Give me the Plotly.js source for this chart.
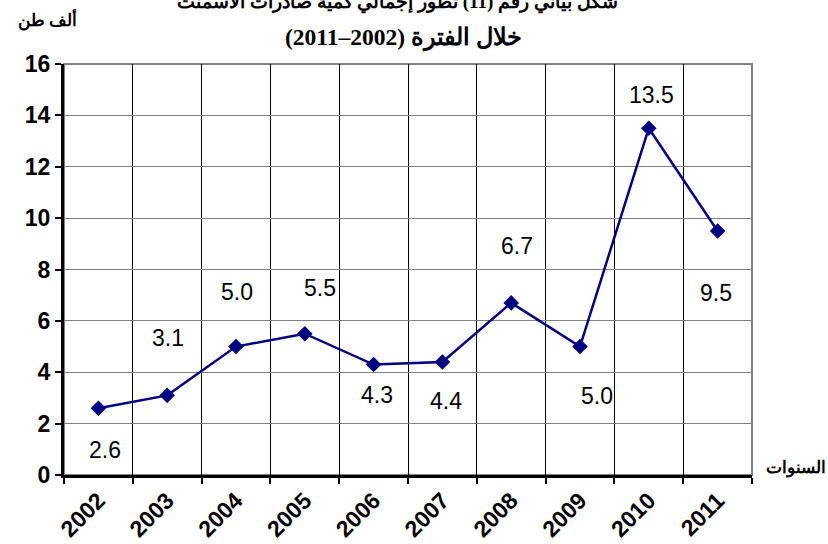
<!DOCTYPE html>
<html>
<head>
<meta charset="utf-8">
<script src="https://cdn.plot.ly/plotly-3.0.1.min.js"></script>
<style>
  body { margin: 0; background: #fff; }
  #chart { width: 828px; height: 544px; }
</style>
</head>
<body>
<div id="chart"></div>
<script>
// Data
var years = ['2002', '2003', '2004', '2005', '2006', '2007', '2008', '2009', '2010', '2011'];
var values = [2.6, 3.1, 5.0, 5.5, 4.3, 4.4, 6.7, 5.0, 13.5, 9.5];
var labels = ['2.6', '3.1', '5.0', '5.5', '4.3', '4.4', '6.7', '5.0', '13.5', '9.5'];

// label offsets (px) around each point
var shiftX = [7, 1, 1, 15, 3, 4, 6, 17, 3, -2];
var shiftY = [-42, 57, 55, 46, -30, -39, 57, -49, 33, -62];

var trace = {
    x: years,
    y: values,
    type: 'scatter',
    mode: 'lines+markers',
    line: {color: '#000080', width: 2.5},
    marker: {symbol: 'diamond', size: 12, color: '#000080'},
    hoverinfo: 'none'
};

// on a category axis, annotations take the category index
var annots = years.map(function (yr, i) {
    return {
        x: i, y: values[i], xref: 'x', yref: 'y',
        text: labels[i], showarrow: false,
        xanchor: 'center', yanchor: 'middle',
        xshift: shiftX[i], yshift: shiftY[i],
        font: {family: 'Liberation Sans, Arial', size: 23, color: '#000'}
    };
});

var serif = 'Liberation Serif, Times New Roman, serif';
annots.push(
    {text: '<b>شكل بياني رقم (11) تطور إجمالي كمية صادرات الأسمنت</b>', xref: 'paper', yref: 'paper',
     x: 0.485, y: 1.151, xanchor: 'center', yanchor: 'middle', showarrow: false,
     font: {family: serif, size: 19, color: '#000'}},
    {text: '<b>خلال الفترة (2002–2011)</b>', xref: 'paper', yref: 'paper',
     x: 0.494, y: 1.063, xanchor: 'center', yanchor: 'middle', showarrow: false,
     font: {family: serif, size: 23.5, color: '#000'}},
    {text: '<b>ألف طن</b>', xref: 'paper', yref: 'paper',
     x: -0.024, y: 1.109, xanchor: 'center', yanchor: 'middle', showarrow: false,
     font: {family: serif, size: 17, color: '#000'}},
    {text: '<b>السنوات</b>', xref: 'paper', yref: 'paper',
     x: 1.064, y: 0.017, xanchor: 'center', yanchor: 'middle', showarrow: false,
     font: {family: serif, size: 17, color: '#000'}}
);

var layout = {
    width: 828,
    height: 544,
    margin: {l: 64, r: 76, t: 64, b: 69},
    paper_bgcolor: '#fff',
    plot_bgcolor: '#fff',
    showlegend: false,
    font: {family: 'Liberation Sans, Arial', color: '#000'},
    xaxis: {
        type: 'category',
        range: [-0.5, 9.5],
        tickson: 'boundaries',
        showgrid: true,
        gridcolor: '#000',
        gridwidth: 1,
        showline: true,
        linecolor: '#000',
        linewidth: 3,
        ticks: 'outside',
        ticklen: 6,
        tickwidth: 2,
        tickcolor: '#000',
        tickangle: -45,
        tickfont: {family: 'Liberation Sans, Arial', size: 23, weight: 'bold'},
        fixedrange: true
    },
    yaxis: {
        range: [0, 16],
        dtick: 2,
        showgrid: true,
        gridcolor: '#808080',
        gridwidth: 1,
        zeroline: false,
        showline: true,
        linecolor: '#000',
        linewidth: 3,
        ticks: 'outside',
        ticklen: 6,
        tickwidth: 2,
        tickcolor: '#000',
        tickfont: {family: 'Liberation Sans, Arial', size: 23, weight: 'bold'},
        fixedrange: true
    },
    shapes: [{
        type: 'rect', xref: 'paper', yref: 'paper',
        x0: 0, x1: 1, y0: 0, y1: 1,
        line: {color: '#808080', width: 2},
        layer: 'below'
    }],
    annotations: annots
};

Plotly.newPlot('chart', [trace], layout, {displayModeBar: false, staticPlot: true});
</script>
</body>
</html>
